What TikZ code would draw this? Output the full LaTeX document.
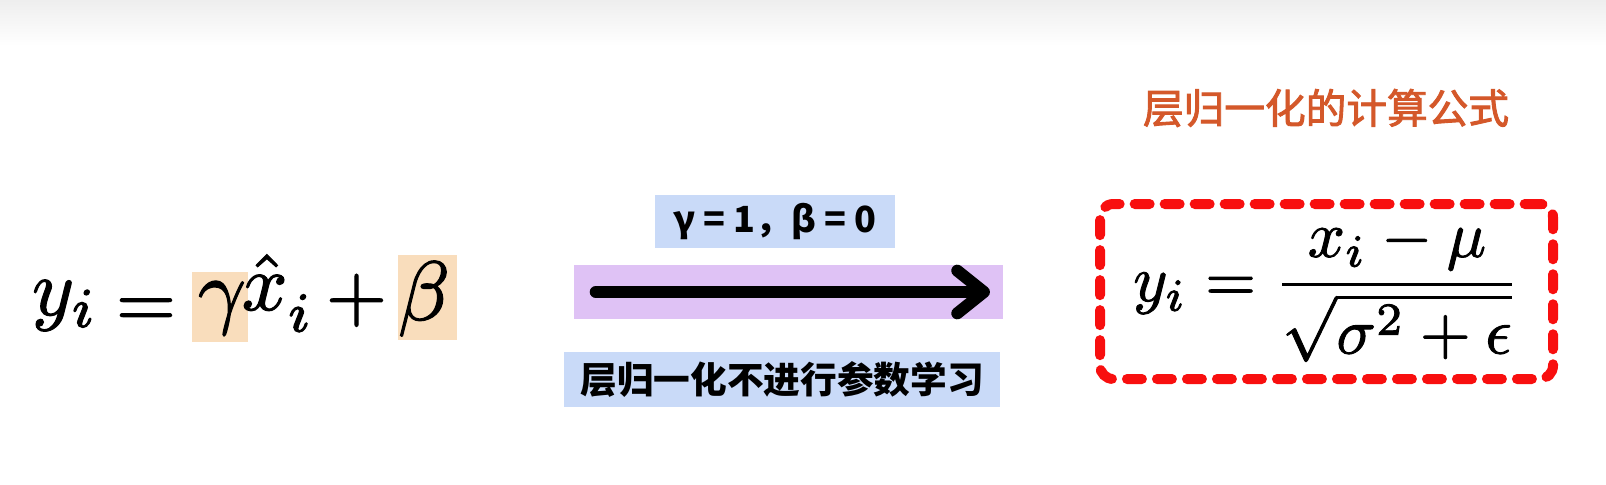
\documentclass[tikz,border=0pt]{standalone}
\usepackage{fontspec}
\usepackage{amsmath}
\usepackage{graphicx}
\newfontfamily\cjk{Noto Sans CJK SC}
\newfontfamily\cjkt{Noto Sans CJK SC}[FakeBold=2.2]
\usetikzlibrary{arrows.meta}
\definecolor{topgray}{HTML}{EEEEEE}
\definecolor{bluebox}{HTML}{C9DAF8}
\definecolor{purpbox}{HTML}{DFC2F5}
\definecolor{peach}{HTML}{F9DDBC}
\definecolor{redline}{HTML}{F80F0F}
\definecolor{titleorange}{HTML}{D4582A}
\newcommand{\heavytext}[1]{\special{pdf:literal direct 2 Tr 0.14 w}#1\special{pdf:literal direct 0 Tr}}
\newcommand{\myformula}[2]{\scalebox{#1}{\heavytext{$#2$}}}
\tikzset{
  labelbox/.style={fill=bluebox, inner sep=0pt, text=black},
  hilite/.style={fill=peach},
  mpiece/.style={anchor=base, inner sep=0pt},
  bigarrow/.style={line width=9pt, line cap=round, -{Straight Barb[length=20pt, width=32pt, round]}},
  redbox/.style={draw=redline, line width=7.5pt, dash pattern=on 11.25pt off 11.25pt, line cap=round, rounded corners=10pt, inner sep=0pt},
}
\begin{document}
\begin{tikzpicture}[x=0.75pt,y=-0.75pt]
\useasboundingbox (0,0) rectangle (1606,485);
\fill[white] (0,0) rectangle (1606,485);
\shade[top color=topgray, bottom color=white] (0,0) rectangle (1606,46);
% left formula with highlights
\fill[hilite] (192,272) rectangle (248,342);
\fill[hilite] (398,255) rectangle (457,340);
\node[mpiece] (ly) at (65,315) {\myformula{6.0}{y_i}};
\node[mpiece] (leq) at (146,327) {\myformula{5.8}{=}};
\node[mpiece] (lg) at (222,318) {\myformula{6.3}{\gamma}};
\node[mpiece] (lx) at (278,310) {\myformula{6.0}{\hat{x}_{\raisebox{-1.2pt}{$\scriptstyle i$}}}};
\node[mpiece] (lp) at (356.5,320) {\myformula{5.9}{+}};
\node[mpiece] (lb) at (424,320) {\myformula{6.3}{\beta}};
% middle
\node[labelbox, minimum width=180pt, minimum height=39.75pt] (gb) at (775,221.5) {\cjk\bfseries\fontsize{27}{30}\selectfont γ = 1，β = 0};
\node[fill=purpbox, inner sep=0pt, minimum width=321.75pt, minimum height=40.5pt] (pb) at (788.5,292) {};
\draw[bigarrow] ([xshift=16.5pt]pb.west) -- ([xshift=-10pt]pb.east);
\node[labelbox, minimum width=327pt, minimum height=41.25pt] (nb) at (782,379.5) {\cjk\bfseries\fontsize{27.5}{30}\selectfont 层归一化不进行参数学习};
% right
\node[text=titleorange] (tt) at (1326,108) {\cjkt\fontsize{30.5}{34}\selectfont 层归一化的计算公式};
\node[redbox, minimum width=339.75pt, minimum height=131.25pt] (rb) at (1326.5,291.5) {};
\node[anchor=base west, inner sep=0pt] (rf) at (1133,301) {\myformula{4.9}{y_i = \dfrac{x_i-\mu}{\sqrt{\sigma^2+\epsilon}}}};
\end{tikzpicture}
\end{document}
